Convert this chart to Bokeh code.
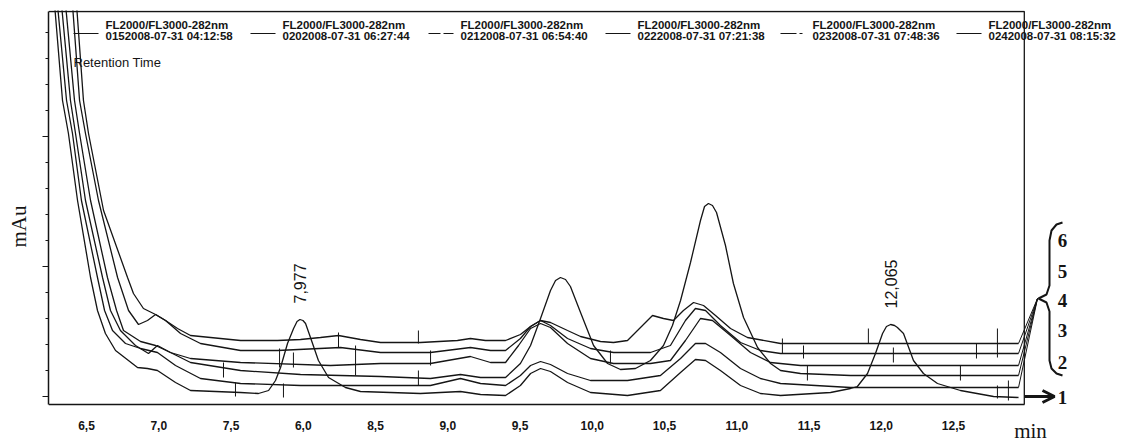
import math
import numpy as np
from bokeh.plotting import figure
from bokeh.models import (FixedTicker, Range1d, Arrow, OpenHead, CustomJSTickFormatter)
from bokeh.core.properties import value
from bokeh.embed import file_html
from bokeh.resources import INLINE

# ---------------- data (retention time in min, signal in arbitrary mAu units) -------------
series_labels = [
    "FL2000/FL3000-282nm\n0152008-07-31 04:12:58",
    "FL2000/FL3000-282nm\n0202008-07-31 06:27:44",
    "FL2000/FL3000-282nm\n0212008-07-31 06:54:40",
    "FL2000/FL3000-282nm\n0222008-07-31 07:21:38",
    "FL2000/FL3000-282nm\n0232008-07-31 07:48:36",
    "FL2000/FL3000-282nm\n0242008-07-31 08:15:32",
]
trace_numbers = ["1", "2", "3", "4", "5", "6"]

x_ticks = [6.5, 7.0, 7.5, 8.0, 8.5, 9.0, 9.5, 10.0, 10.5, 11.0, 11.5, 12.0, 12.5]
x_tick_labels = ["6,5", "7,0", "7,5", "6,0", "8,5", "9,0", "9,5", "10,0", "10,5",
                 "11,0", "11,5", "12,0", "12,5"]

trace1_t = [6.279, 6.334, 6.375, 6.438, 6.528, 6.576, 6.631, 6.701, 6.853, 6.922,
            6.991, 7.116, 7.220, 7.566,
            7.690, 7.760, 7.808, 7.843, 7.891, 7.933, 7.957, 7.977, 7.998, 8.016,
            8.050, 8.105, 8.175, 8.292, 8.396, 8.811, 9.088, 9.227, 9.400, 9.503,
            9.573, 9.642, 9.711, 9.829, 9.988, 10.244, 10.472, 10.611, 10.714, 10.784,
            10.887, 11.026, 11.164, 11.303, 11.649, 11.787, 11.835, 11.905, 11.960, 12.009,
            12.036, 12.065, 12.092, 12.112, 12.154, 12.223, 12.292, 12.389, 12.548, 12.777,
            12.950]
trace1_v = [392, 296, 263, 196, 119, 86, 63, 46, 29, 28,
            26, 14, 6, 4,
            3, 6, 16, 29, 53, 68, 75, 77, 76, 73,
            59, 36, 19, 9, 5, 3, 5, 2, 1, 11,
            23, 28, 25, 14, 4, 1, 6, 24, 37, 36,
            26, 11, 3, 1, 4, 8, 10, 23, 43, 63,
            70, 72, 71, 69, 63, 36, 23, 13, 6, 0,
            -1]

trace2_t = [6.299, 6.362, 6.403, 6.465, 6.576, 6.625, 6.680, 6.770, 6.874, 6.991,
            7.116, 7.289, 7.566,
            7.981, 8.535, 8.880, 9.088, 9.227, 9.400, 9.503, 9.573, 9.642, 9.711,
            9.829, 9.988, 10.244, 10.472, 10.611, 10.714, 10.784, 10.887, 11.026, 11.164,
            11.303, 11.787, 12.950]
trace2_v = [392, 296, 263, 196, 119, 86, 66, 53, 48, 44,
            31, 18, 13,
            11, 11, 11, 18, 13, 11, 21, 31, 35, 32,
            23, 16, 16, 21, 38, 53, 53, 44, 28, 18,
            13, 9, 9]

trace3_t = [6.327, 6.389, 6.424, 6.493, 6.611, 6.666, 6.735, 6.839, 6.929, 6.991,
            7.081, 7.220, 7.566,
            7.981, 8.535, 8.880, 9.088, 9.227, 9.400, 9.503, 9.573, 9.642, 9.711,
            9.746, 9.780, 9.815, 9.849, 9.919, 10.009, 10.106, 10.195, 10.299, 10.403,
            10.493, 10.555, 10.611, 10.680, 10.749, 10.777, 10.804, 10.832, 10.860, 10.922,
            10.977, 11.047, 11.144, 11.234, 11.303, 11.441, 11.787, 12.950]
trace3_v = [392, 296, 263, 196, 119, 86, 66, 51, 43, 51,
            44, 34, 26,
            22, 20, 18, 22, 19, 19, 33, 51, 78, 106,
            116, 119, 117, 110, 84, 51, 33, 27, 28, 36,
            51, 71, 96, 134, 176, 190, 193, 191, 184, 151,
            113, 79, 49, 33, 26, 23, 21, 21]

trace4_t = [6.355, 6.417, 6.452, 6.528, 6.645, 6.708, 6.756, 6.874, 6.978, 7.081,
            7.220, 7.566,
            8.189, 8.535, 8.880, 9.157, 9.296, 9.400, 9.490, 9.573, 9.642, 9.711,
            9.829, 9.988, 10.147, 10.403, 10.541, 10.645, 10.749, 10.832, 10.957, 11.095,
            11.233, 11.441, 12.950]
trace4_v = [392, 296, 263, 196, 119, 86, 66, 55, 51, 44,
            38, 34,
            31, 33, 33, 40, 34, 34, 51, 68, 73, 69,
            53, 38, 33, 33, 36, 56, 78, 76, 61, 44,
            34, 31, 31]

trace5_t = [6.403, 6.452, 6.493, 6.583, 6.715, 6.791, 6.860, 6.922, 6.978, 7.047,
            7.151, 7.289, 7.566,
            7.822, 8.258, 8.535, 8.880, 9.157, 9.296, 9.400, 9.503, 9.573, 9.642,
            9.711, 9.829, 9.988, 10.147, 10.403, 10.541, 10.645, 10.714, 10.784, 10.887,
            11.026, 11.164, 11.303, 12.950]
trace5_v = [392, 296, 263, 196, 119, 86, 72, 76, 82, 76,
            63, 53, 46,
            46, 49, 44, 44, 49, 46, 46, 58, 70, 76,
            71, 58, 48, 44, 44, 51, 76, 88, 86, 71,
            54, 46, 43, 43]

trace6_t = [6.431, 6.479, 6.514, 6.618, 6.784, 6.825, 6.894, 6.978, 7.047, 7.130,
            7.220, 7.566,
            7.822, 7.981, 8.119, 8.244, 8.396, 8.535, 8.811, 9.067, 9.157, 9.261,
            9.400, 9.503, 9.573, 9.642, 9.711, 9.829, 9.919, 10.057, 10.147, 10.244,
            10.334, 10.417, 10.493, 10.562, 10.631, 10.701, 10.770, 10.853, 10.957, 11.074,
            11.303, 11.787, 12.950]
trace6_v = [392, 296, 263, 186, 119, 103, 88, 82, 76, 68,
            61, 56,
            56, 57, 59, 61, 57, 54, 54, 56, 58, 56,
            56, 62, 70, 76, 74, 66, 60, 55, 54, 56,
            69, 81, 78, 76, 86, 94, 91, 81, 68, 59,
            53, 53, 53]

peak_times = [7.977, 12.065]
peak_labels = ["7,977", "12,065"]

# integration event marks (time, low, high)
event_t = [7.448, 7.531, 7.836, 7.863, 7.932, 8.244, 8.362, 8.797, 8.881, 8.797,
           10.126, 11.316, 11.462, 11.489, 11.911, 12.084, 12.548, 12.659, 12.804, 12.804, 12.880]
event_lo = [19, 0, 29, -1, 29, 49, 21, 53, 31, 11, 33, 43, 38, 16, 53, 34, 16, 38, 39, -2, -4]
event_hi = [34, 14, 48, 13, 44, 64, 51, 66, 46, 26, 46, 58, 51, 31, 68, 49, 31, 53, 68, 11, 16]

traces = [(trace1_t, trace1_v), (trace2_t, trace2_v), (trace3_t, trace3_v),
          (trace4_t, trace4_v), (trace5_t, trace5_v), (trace6_t, trace6_v)]

# ---------------- layout ----------------
FIG_W, FIG_H = 1122, 442
B_LEFT, B_TOP = 48, 10
PX_PER_MIN = 144.5          # horizontal scale
T_AT_86 = 6.5               # time at page x = 86
SIG_AT_396 = 0.0            # signal at page y = 396 (1 unit per px)
X_AXIS_END = 12.99
Y_AXIS_LOW = -8.0
Y_TOP = 385.0


def ax(px):
    """page x pixel -> time (for placing annotations)"""
    return T_AT_86 + (np.asarray(px, dtype=float) - 86) / PX_PER_MIN


def ay(py):
    """page y pixel -> signal (for placing annotations)"""
    return SIG_AT_396 + (396 - np.asarray(py, dtype=float))


INK = "#151515"

p = figure(width=FIG_W, height=FIG_H, output_backend="svg", toolbar_location=None,
           x_range=Range1d(float(ax(B_LEFT)), float(ax(FIG_W))),
           y_range=Range1d(float(ay(FIG_H)), float(ay(B_TOP))),
           min_border_left=B_LEFT, min_border_right=0,
           min_border_top=B_TOP, min_border_bottom=0)
p.outline_line_color = None
p.grid.visible = False
p.background_fill_color = "white"
p.border_fill_color = "white"

# x axis, drawn inside the frame at the bottom of the chromatogram box
xa = p.xaxis[0]
xa.fixed_location = Y_AXIS_LOW
xa.ticker = FixedTicker(ticks=x_ticks)
xa.formatter = CustomJSTickFormatter(args=dict(vals=x_ticks, labels=x_tick_labels), code="""
    const i = vals.findIndex(v => Math.abs(v - tick) < 1e-6);
    return i >= 0 ? labels[i] : '';
""")
xa.bounds = (float(ax(B_LEFT)), X_AXIS_END)
xa.axis_line_color = INK
xa.axis_line_width = 1.5
xa.major_tick_in = 0
xa.major_tick_out = 0
xa.minor_tick_line_color = None
xa.major_label_standoff = 16
xa.major_label_text_font = "Liberation Sans"
xa.major_label_text_font_style = "bold"
xa.major_label_text_font_size = "12px"
xa.major_label_text_color = INK

# y axis (no numbers)
ya = p.yaxis[0]
ya.ticker = FixedTicker(ticks=[0, 130, 260], minor_ticks=list(range(0, 386, 26)))
ya.formatter = CustomJSTickFormatter(code="return '';")
ya.bounds = (Y_AXIS_LOW, Y_TOP)
ya.axis_line_color = INK
ya.axis_line_width = 1.5
ya.major_tick_in = 0
ya.major_tick_out = 6
ya.major_tick_line_color = INK
ya.minor_tick_in = 0
ya.minor_tick_out = 3
ya.minor_tick_line_color = INK
ya.major_label_standoff = 0
ya.axis_label = "mAu"
ya.axis_label_standoff = 12
ya.axis_label_text_font = "Liberation Serif"
ya.axis_label_text_font_style = "normal"
ya.axis_label_text_font_size = "21px"
ya.axis_label_text_color = INK

# frame top and right border
p.line([float(ax(B_LEFT)), X_AXIS_END, X_AXIS_END], [Y_TOP, Y_TOP, Y_AXIS_LOW],
       line_color=INK, line_width=1.3)

# chromatogram traces
for t, v in traces:
    p.line(t, v, line_color=INK, line_width=1.3)

# integration event marks
p.segment(x0=event_t, y0=event_lo, x1=event_t, y1=event_hi, line_color=INK, line_width=1)

# peak retention-time labels (rotated)
peak_y = [float(np.interp(t, trace1_t, trace1_v)) + 16 for t in peak_times]
p.text(x=peak_times, y=peak_y, text=peak_labels, angle=math.pi / 2,
       text_align="left", text_baseline="middle",
       text_font=value("Liberation Sans"), text_font_size="16px", text_color=INK)

# legend (sample line + two-line label per series)
legend_text_px = [105, 282, 460, 637, 812, 988]
legend_dash = ["solid", "solid", "12 3", "solid", "16 3 3 3", "solid"]
for lbl, tx, dash in zip(series_labels, legend_text_px, legend_dash):
    p.line(list(ax([tx - 32, tx - 7])), [float(ay(33))] * 2,
           line_color=INK, line_width=1.2, line_dash=dash)
    p.text(x=[float(ax(tx))], y=[float(ay(30))], text=[lbl],
           text_align="left", text_baseline="middle", text_line_height=0.92,
           text_font=value("Liberation Sans"), text_font_style="bold",
           text_font_size="11.5px", text_color=INK)

p.text(x=[float(ax(73))], y=[float(ay(62))], text=["Retention Time"],
       text_align="left", text_baseline="middle",
       text_font=value("Liberation Sans"), text_font_size="13px", text_color=INK)

# right-hand annotation: brace, pointers, numbers, arrow
brace_px = [1062, 1056, 1051, 1049, 1049, 1046, 1038, 1046, 1049, 1049, 1051, 1056, 1062]
brace_py = [222, 224, 230, 240, 285, 294, 298, 302, 311, 360, 368, 373, 375]
p.line(list(ax(brace_px)), list(ay(brace_py)), line_color=INK, line_width=2)

tip_x, tip_y = float(ax(1037)), float(ay(298))
ends_x = [t[-1] for t, v in traces[1:]]
ends_y = [v[-1] for t, v in traces[1:]]
p.segment(x0=ends_x, y0=ends_y, x1=[tip_x] * len(ends_x), y1=[tip_y] * len(ends_y),
          line_color=INK, line_width=1)

num_py = [397, 362, 330, 300, 271, 240]
p.text(x=[float(ax(1062))] * 6, y=list(ay(num_py)), text=trace_numbers,
       text_align="center", text_baseline="middle",
       text_font=value("Liberation Serif"), text_font_style="bold",
       text_font_size="19px", text_color=INK)

p.add_layout(Arrow(end=OpenHead(size=12, line_width=3, line_color=INK),
                   x_start=float(ax(1024)), y_start=float(ay(396)),
                   x_end=float(ax(1054)), y_end=float(ay(396)),
                   line_width=3, line_color=INK))

# x-axis unit
p.text(x=[float(ax(1030))], y=[float(ay(430))], text=["min"],
       text_align="center", text_baseline="middle",
       text_font=value("Liberation Serif"), text_font_size="21px", text_color=INK)

open("out.html", "w").write(file_html(p, INLINE))
